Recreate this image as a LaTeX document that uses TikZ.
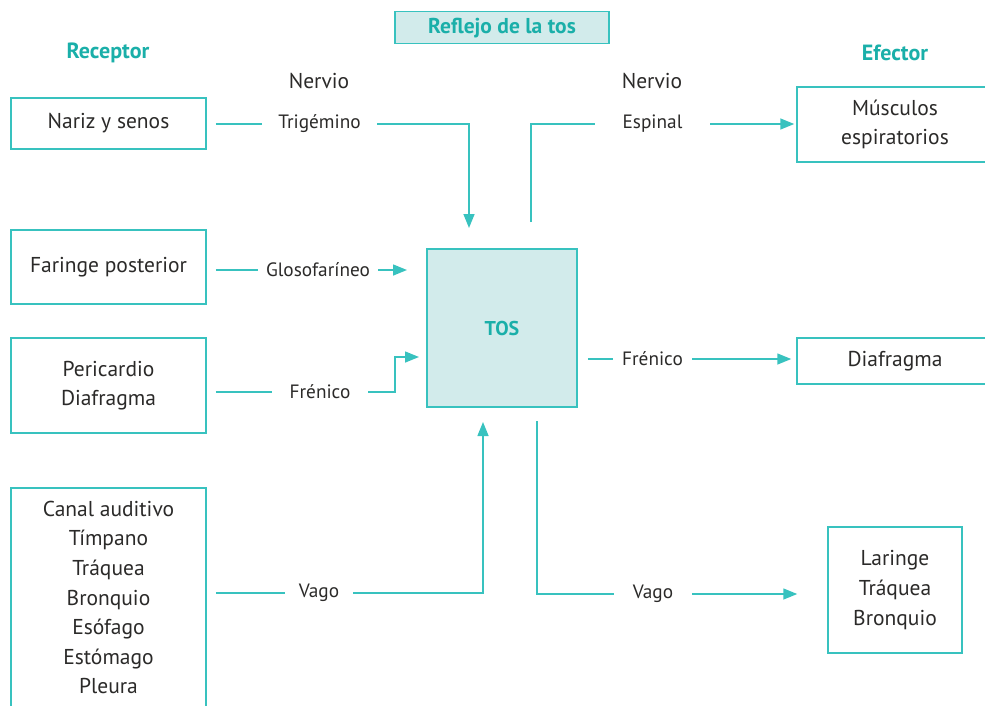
\documentclass[tikz,border=0pt]{standalone}
\usepackage{fontspec}
\setmainfont{PT Sans}
\usetikzlibrary{arrows.meta}
\definecolor{tline}{HTML}{38C2BF}
\definecolor{ttext}{HTML}{1AAFA9}
\definecolor{tfill}{HTML}{D2EBEB}
\definecolor{dtext}{HTML}{2B2A29}
\tikzset{
  box/.style={draw=tline, line width=1.5pt, fill=white, inner sep=0pt, align=center,
    font=\fontsize{21.5}{29.6}\selectfont, text=dtext},
  tosbox/.style={box, fill=tfill, text=ttext, font=\fontsize{20}{24}\selectfont\bfseries},
  lab/.style={inner sep=0pt, font=\fontsize{19.3}{22}\selectfont, text=dtext},
  nerv/.style={inner sep=0pt, font=\fontsize{21.5}{24}\selectfont, text=dtext},
  head/.style={inner sep=0pt, font=\fontsize{22}{24}\selectfont\bfseries, text=ttext},
  conn/.style={draw=tline, line width=1.5pt},
  arr/.style={conn, -{Triangle[length=14pt,width=11pt]}}
}
\begin{document}
\begin{tikzpicture}[x=1pt,y=-1pt]
\useasboundingbox (0,0) rectangle (985,705);
\clip (0,0) rectangle (985,705);
% title and headers
\node[tosbox, minimum width=214pt, minimum height=32pt, font=\fontsize{21.5}{24}\selectfont\bfseries,
  text height=15pt, text depth=3pt] (title) at (502,27.5) {Reflejo de la tos};
\node[head] (rec) at (108,53) {Receptor};
\node[head] (efe) at (895,53) {Efector};
\node[nerv] (nv1) at (319,81) {Nervio};
\node[nerv] (nv2) at (652,81) {Nervio};
% receptor boxes
\node[box, minimum width=195pt, minimum height=51pt] (nariz) at (108.5,123.5) {Nariz y senos};
\node[box, minimum width=195pt, minimum height=74pt] (faringe) at (108.5,267) {Faringe posterior};
\node[box, minimum width=195pt, minimum height=95pt] (peri) at (108.5,385.5) {Pericardio\\Diafragma};
\node[box, minimum width=195pt, minimum height=219pt] (canal) at (108.5,597.5) {Canal auditivo\\Tímpano\\Tráquea\\Bronquio\\Esófago\\Estómago\\Pleura};
% central box
\node[tosbox, minimum width=150pt, minimum height=158pt] (tos) at (502,328) {TOS};
% effector boxes
\node[box, minimum width=196pt, minimum height=75pt] (musc) at (895,124.5) {Músculos\\espiratorios};
\node[box, minimum width=196pt, minimum height=46pt] (diaf) at (895,361) {Diafragma};
\node[box, minimum width=134pt, minimum height=126pt] (lar) at (895,590) {Laringe\\Tráquea\\Bronquio};
% nerve labels
\node[lab, minimum width=115pt] (trig) at (319.5,124) {Trigémino};
\node[lab, minimum width=120pt] (glos) at (318,270) {Glosofaríneo};
\node[lab, minimum width=96pt] (frel) at (320,392) {Frénico};
\node[lab, minimum width=68pt] (vagl) at (319,593) {Vago};
\node[lab, minimum width=115pt] (esp) at (652.5,124) {Espinal};
\node[lab, minimum width=79pt] (frer) at (652.5,359) {Frénico};
\node[lab, minimum width=78pt] (vagr) at (653,594) {Vago};
% free ends
\coordinate (t1) at (469,228);
\coordinate (t2) at (407,270);
\coordinate (t3) at (419,357);
\coordinate (t4) at (483,422);
\coordinate (s5) at (531,222);
\coordinate (s7) at (537,421);
% connectors: receptors to TOS
\draw[conn] (nariz.east |- trig.west) ++(9,0) -- (trig.west);
\draw[arr] (trig.east) -| (t1);
\draw[conn] (faringe.east |- glos.west) ++(9,0) -- (glos.west);
\draw[arr] (glos.east) -- (t2);
\draw[conn] (peri.east |- frel.west) ++(9,0) -- (frel.west);
\draw[arr] (frel.east) -- ++(27,0) |- (t3);
\draw[conn] (canal.east |- vagl.west) ++(9,0) -- (vagl.west);
\draw[arr] (vagl.east) -| (t4);
% connectors: TOS to effectors
\draw[conn] (s5) |- (esp.west);
\draw[arr, shorten >=2pt] (esp.east) -- (esp.east -| musc.west);
\draw[conn] (tos.east |- frer.west) ++(10,0) -- (frer.west);
\draw[arr, shorten >=5pt] (frer.east) -- (frer.east -| diaf.west);
\draw[conn] (s7) |- (vagr.west);
\draw[arr, shorten >=30pt] (vagr.east) -- (vagr.east -| lar.west);
\end{tikzpicture}
\end{document}
